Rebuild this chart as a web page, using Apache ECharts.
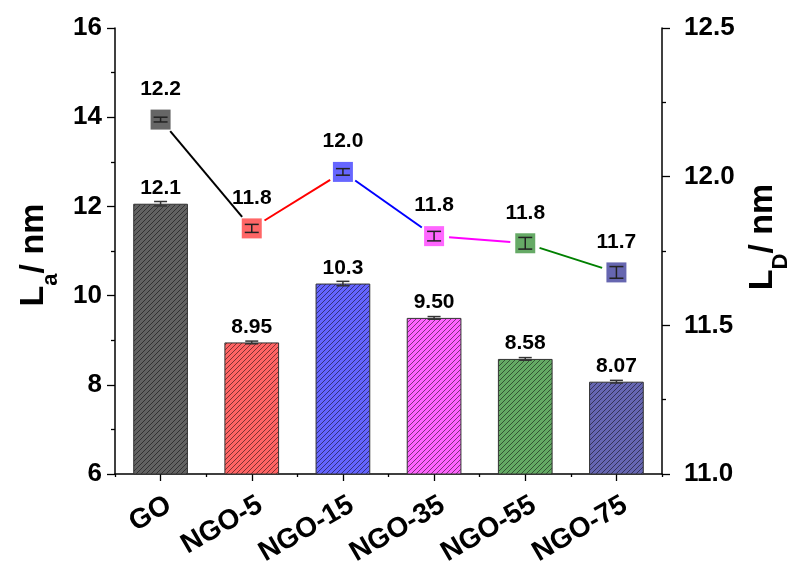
<!DOCTYPE html>
<html>
<head>
<meta charset="utf-8">
<script src="https://cdn.jsdelivr.net/npm/echarts@6/dist/echarts.min.js"></script>
<style>
html,body{margin:0;padding:0;background:#fff;}
#main{width:787px;height:570px;}
</style>
</head>
<body>
<div id="main"></div>
<script>
// ---- data ----
const categories = ['GO', 'NGO-5', 'NGO-15', 'NGO-35', 'NGO-55', 'NGO-75'];
const laValues = [12.06, 8.95, 10.27, 9.50, 8.58, 8.07];
const laErrors = [0.05, 0.03, 0.05, 0.03, 0.03, 0.03];
const ldValues = [12.192, 11.826, 12.016, 11.800, 11.776, 11.678];
const ldErrors = [0.008, 0.0135, 0.011, 0.016, 0.0196, 0.0196];
const laAxis = { min: 6, max: 16, interval: 2 };
const ldAxis = { min: 11.0, max: 12.5, interval: 0.5 };

// ---- styles ----
const barColors = ['#626262', '#ff6464', '#6464ff', '#ff64ff', '#64aa64', '#6666b2'];
const markerColors = ['#666666', '#ff6666', '#6666ff', '#ff66ff', '#66aa66', '#6666b0'];
const segmentColors = ['#000000', '#ff0000', '#0000ff', '#ff00ff', '#008000'];
const FONT = '"Liberation Sans", Arial, sans-serif';

function hatch(color) {
  const s = 5;
  const c = document.createElement('canvas');
  c.width = s; c.height = s;
  const g = c.getContext('2d');
  g.fillStyle = color;
  g.fillRect(0, 0, s, s);
  g.strokeStyle = 'rgba(0,0,0,0.5)';
  g.lineWidth = 1;
  g.beginPath();
  g.moveTo(-1, s + 1); g.lineTo(s + 1, -1);
  g.moveTo(-1, 1); g.lineTo(1, -1);
  g.moveTo(s - 1, s + 1); g.lineTo(s + 1, s - 1);
  g.stroke();
  return { image: c, repeat: 'repeat' };
}

function errRender(capHalf, color, width) {
  return function (params, api) {
    const x = api.value(0), v = api.value(1), e = api.value(2);
    const top = api.coord([x, v + e]);
    const bot = api.coord([x, v - e]);
    const cx = top[0];
    const st = { stroke: color, lineWidth: width };
    return {
      type: 'group',
      children: [
        { type: 'line', shape: { x1: cx, y1: top[1], x2: cx, y2: bot[1] }, style: st },
        { type: 'line', shape: { x1: cx - capHalf, y1: top[1], x2: cx + capHalf, y2: top[1] }, style: st },
        { type: 'line', shape: { x1: cx - capHalf, y1: bot[1], x2: cx + capHalf, y2: bot[1] }, style: st }
      ]
    };
  };
}

const gap = 15;
function segRender(params, api) {
  const p1 = api.coord([api.value(0), api.value(1)]);
  const p2 = api.coord([api.value(2), api.value(3)]);
  const dx = p2[0] - p1[0], dy = p2[1] - p1[1];
  const len = Math.sqrt(dx * dx + dy * dy);
  const ux = dx / len, uy = dy / len;
  return {
    type: 'line',
    shape: { x1: p1[0] + ux * gap, y1: p1[1] + uy * gap, x2: p2[0] - ux * gap, y2: p2[1] - uy * gap },
    style: { stroke: segmentColors[params.dataIndex], lineWidth: 2 }
  };
}

const axisNameRich = {
  m: { fontSize: 34, fontWeight: 'bold', fontFamily: FONT, color: '#000', lineHeight: 36, verticalAlign: 'top' },
  s: { fontSize: 22, fontWeight: 'bold', fontFamily: FONT, color: '#000', lineHeight: 22, verticalAlign: 'top', padding: [24, 0, 0, 0] }
};

const yCommon = {
  type: 'value',
  splitLine: { show: false },
  axisLine: { show: true, lineStyle: { color: '#000', width: 1.5 } },
  axisTick: { show: true, inside: false, length: 8, lineStyle: { color: '#000', width: 1.3 } },
  minorTick: { show: true, splitNumber: 2, length: 4, lineStyle: { color: '#000', width: 1.3 } },
  axisLabel: { fontSize: 26, fontWeight: 'bold', fontFamily: FONT, color: '#000', margin: 13 },
  nameLocation: 'middle',
  nameRotate: 90
};

const chart = echarts.init(document.getElementById('main'), null, { renderer: 'canvas' });
chart.setOption({
  backgroundColor: '#fff',
  animation: false,
  grid: { left: 115, right: 125, top: 28, bottom: 96, containLabel: false, outerBoundsMode: 'none' },
  xAxis: [
    {
      type: 'category',
      data: categories,
      boundaryGap: true,
      position: 'bottom',
      axisLine: { show: true, lineStyle: { color: '#000', width: 1.5 } },
      axisTick: { show: true, alignWithLabel: true, length: 7, lineStyle: { color: '#000', width: 1.3 } },
      axisLabel: {
        rotate: 30, fontSize: 28, fontWeight: 'bold', fontFamily: FONT, color: '#000',
        margin: 34, interval: 0, padding: [0, -10, 0, 0]
      },
      splitLine: { show: false }
    },
    {
      type: 'category',
      data: categories,
      boundaryGap: true,
      position: 'bottom',
      offset: 0,
      axisLine: { show: false },
      axisTick: { show: true, alignWithLabel: false, length: 3, lineStyle: { color: '#000', width: 1.3 } },
      axisLabel: { show: false },
      splitLine: { show: false }
    }
  ],
  yAxis: [
    Object.assign({}, yCommon, {
      position: 'left',
      min: laAxis.min, max: laAxis.max, interval: laAxis.interval,
      name: '{m|L}{s|a}{m|/ nm}',
      nameGap: 60,
      nameTextStyle: { rich: axisNameRich, padding: [0, 8, 0, 0] }
    }),
    Object.assign({}, yCommon, {
      position: 'right',
      min: ldAxis.min, max: ldAxis.max, interval: ldAxis.interval,
      axisLabel: Object.assign({}, yCommon.axisLabel, {
        margin: 22,
        formatter: v => v.toFixed(1)
      }),
      name: '{m|L}{s|D}{m|/ nm}',
      nameGap: 79,
      nameTextStyle: { rich: axisNameRich, padding: [0, 0, 0, 28] }
    })
  ],
  series: [
    {
      type: 'bar',
      xAxisIndex: 0, yAxisIndex: 0,
      barWidth: '60%',
      z: 2,
      data: laValues.map((v, i) => ({
        value: v,
        itemStyle: { color: hatch(barColors[i]), borderColor: '#333', borderWidth: 1 }
      })),
      label: {
        show: true, position: 'top', distance: 5,
        fontSize: 21, fontWeight: 'bold', fontFamily: FONT, color: '#000',
        formatter: p => laValues[p.dataIndex].toPrecision(3)
      }
    },
    {
      type: 'custom',
      xAxisIndex: 0, yAxisIndex: 0,
      z: 3,
      renderItem: errRender(6.5, '#333', 1.5),
      encode: { x: 0, y: 1 },
      data: laValues.map((v, i) => [i, v, laErrors[i]])
    },
    {
      type: 'custom',
      xAxisIndex: 0, yAxisIndex: 1,
      z: 4,
      renderItem: segRender,
      encode: { x: [0, 2], y: [1, 3] },
      data: segmentColors.map((c, i) => [i, ldValues[i], i + 1, ldValues[i + 1]])
    },
    {
      type: 'scatter',
      xAxisIndex: 0, yAxisIndex: 1,
      z: 5,
      symbol: 'rect',
      symbolSize: 20,
      data: ldValues.map((v, i) => ({ value: [i, v], itemStyle: { color: markerColors[i], opacity: 1 } })),
      label: {
        show: true, position: 'top', distance: 10,
        fontSize: 21, fontWeight: 'bold', fontFamily: FONT, color: '#000',
        formatter: p => ldValues[p.dataIndex].toFixed(1)
      }
    },
    {
      type: 'custom',
      xAxisIndex: 0, yAxisIndex: 1,
      z: 6,
      renderItem: errRender(7, '#222', 1.5),
      encode: { x: 0, y: 1 },
      data: ldValues.map((v, i) => [i, v, ldErrors[i]])
    }
  ]
});
</script>
</body>
</html>
